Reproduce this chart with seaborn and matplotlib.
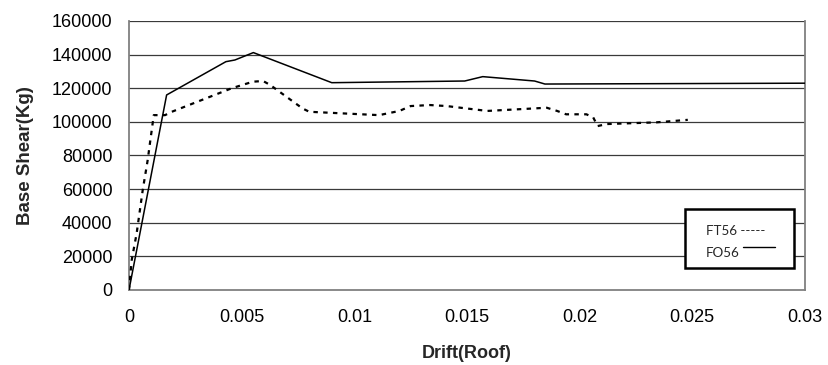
import matplotlib
matplotlib.use("Agg")
import matplotlib.pyplot as plt
from matplotlib.patches import Rectangle
from matplotlib.lines import Line2D
import seaborn as sns
import pandas as pd

# Pushover curves: roof drift vs base shear
fo56_drift = [0.0, 0.00167, 0.0043, 0.0047, 0.00552, 0.009, 0.0149, 0.0157, 0.018, 0.01846, 0.03]
fo56_shear = [0, 116000, 135800, 136800, 141200, 123300, 124300, 126900, 124300, 122500, 123000]

ft56_drift = [0.0, 0.00012, 0.00034, 0.00061, 0.00083, 0.00093, 0.0011, 0.0016, 0.0019,
              0.00456, 0.0055, 0.00595, 0.00626, 0.0077, 0.008, 0.0111, 0.012, 0.0125,
              0.01336, 0.0141, 0.0159, 0.01854, 0.019, 0.0194, 0.0203, 0.0206, 0.0208,
              0.0212, 0.0234, 0.0248]
ft56_shear = [0, 17800, 33700, 59500, 77300, 87300, 104000, 104000, 106000,
              120000, 123900, 124300, 122000, 108000, 106000, 104000, 106500, 109400,
              110000, 109400, 106500, 108400, 106500, 104500, 104500, 102700, 97500,
              98700, 99700, 101200]

x_ticks = [0, 0.005, 0.01, 0.015, 0.02, 0.025, 0.03]
x_tick_labels = ["0", "0.005", "0.01", "0.015", "0.02", "0.025", "0.03"]
y_ticks = [0, 20000, 40000, 60000, 80000, 100000, 120000, 140000, 160000]
y_tick_labels = [str(v) for v in y_ticks]

sns.set_style("white")
plt.rcParams["font.family"] = ["Liberation Sans", "DejaVu Sans"]

fig = plt.figure(figsize=(8.29, 3.65), dpi=100)
ax = fig.add_axes([0.1556, 0.2055, 0.8154, 0.737])

fo = pd.DataFrame({"drift": fo56_drift, "shear": fo56_shear})
ft = pd.DataFrame({"drift": ft56_drift, "shear": ft56_shear})

# horizontal gridlines
for v in y_ticks[1:]:
    ax.axhline(v, color="#3a3a3a", lw=0.9, zorder=1)

sns.lineplot(data=fo, x="drift", y="shear", ax=ax, color="black", lw=1.1,
             sort=False, zorder=3)
sns.lineplot(data=ft, x="drift", y="shear", ax=ax, color="black", lw=1.6,
             linestyle=(0, (2.0, 2.4)), sort=False, zorder=3)

ax.set_xlim(0, 0.03)
ax.set_ylim(0, 160000)
ax.set_xticks(x_ticks)
ax.set_xticklabels(x_tick_labels)
ax.set_yticks(y_ticks)
ax.set_yticklabels(y_tick_labels)
ax.tick_params(axis="both", direction="out", length=4, width=1.0, color="#808080",
               labelsize=13, labelcolor="black")
ax.tick_params(axis="x", pad=10)
ax.tick_params(axis="y", pad=8)

for side in ["left", "right", "bottom"]:
    ax.spines[side].set_visible(True)
    ax.spines[side].set_color("#808080")
    ax.spines[side].set_linewidth(1.3)
ax.spines["top"].set_visible(False)

ax.set_xlabel("Drift(Roof)", fontsize=13, fontweight="bold")
ax.set_ylabel("Base Shear(Kg)", fontsize=13.5, fontweight="bold")
ax.xaxis.set_label_coords(0.5, -0.205)
ax.yaxis.set_label_coords(-0.141, 0.5)

# key box
ax.add_patch(Rectangle((0.822, 0.083), 0.162, 0.218, transform=ax.transAxes,
                       facecolor="white", edgecolor="black", lw=1.8, zorder=5))
ax.text(0.853, 0.22, "FT56 -----", transform=ax.transAxes, fontsize=9.6,
        family=["Lato", "DejaVu Sans"], va="center", ha="left", zorder=6)
ax.text(0.853, 0.137, "FO56", transform=ax.transAxes, fontsize=9.6,
        family=["Lato", "DejaVu Sans"], va="center", ha="left", zorder=6)
ax.add_line(Line2D([0.909, 0.955], [0.16, 0.16], transform=ax.transAxes,
                   color="black", lw=1.0, zorder=6))

fig.savefig("out.png", dpi=100)
